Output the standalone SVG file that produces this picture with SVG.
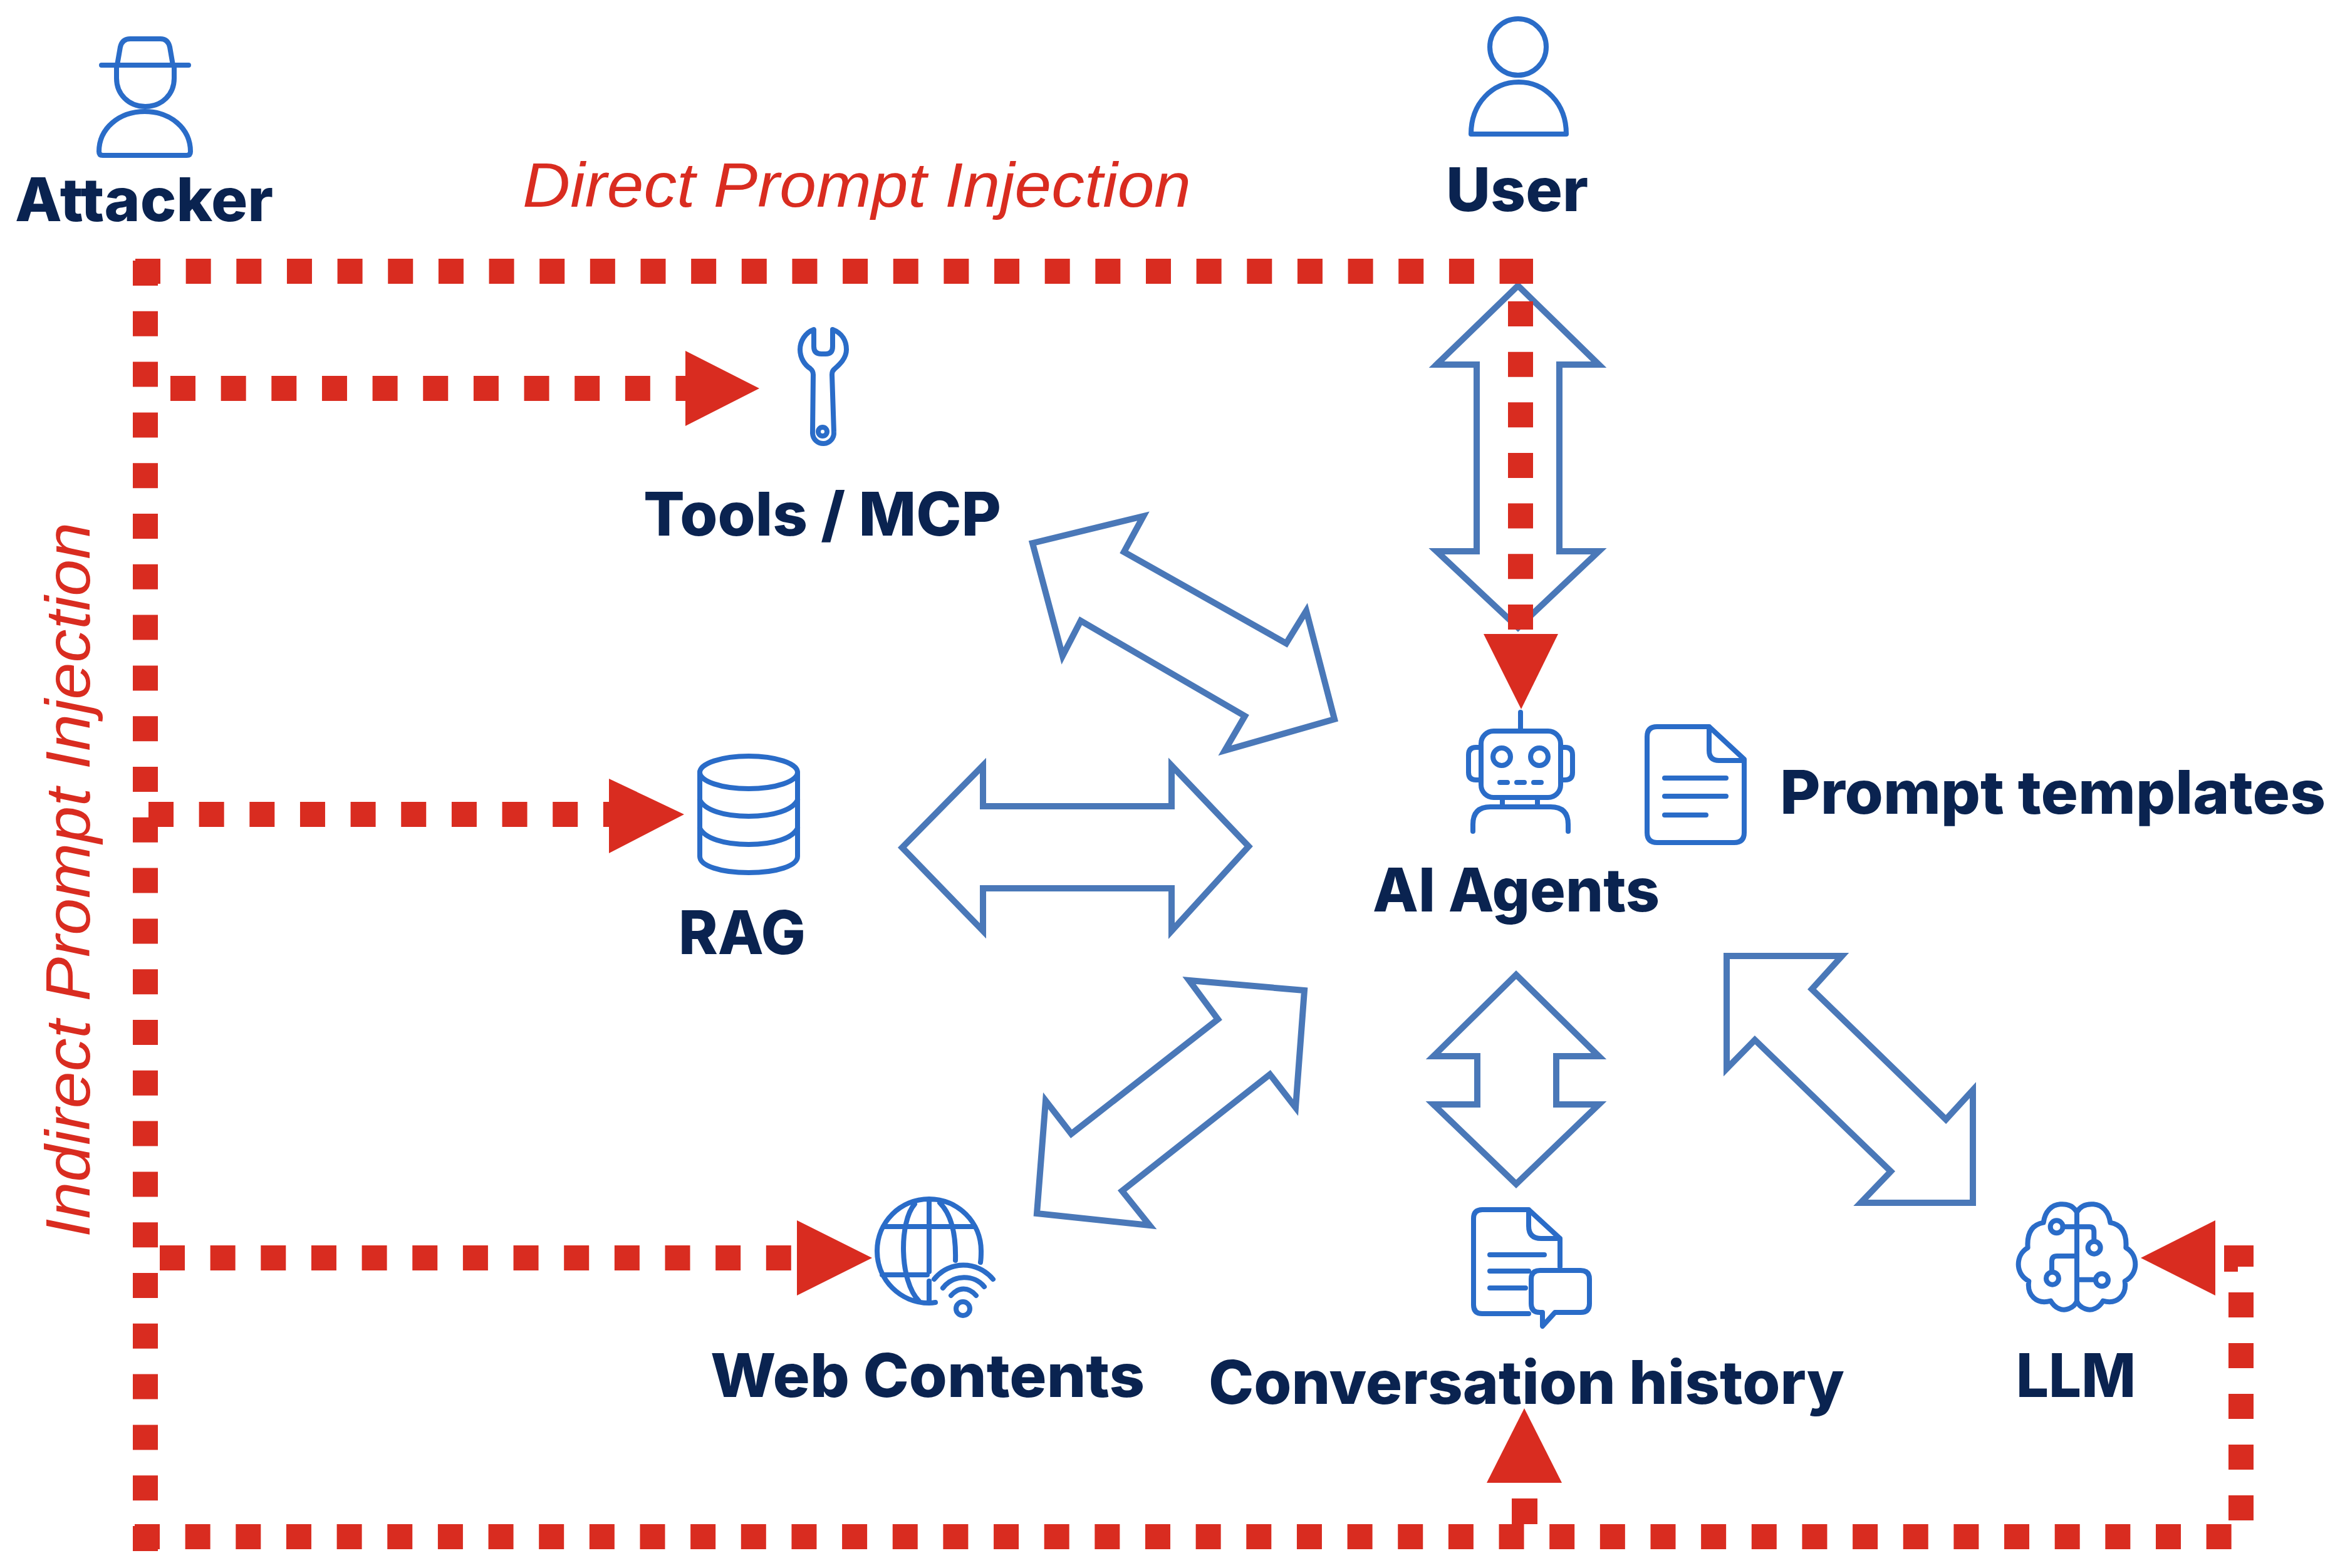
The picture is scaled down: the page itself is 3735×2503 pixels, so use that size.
<svg xmlns="http://www.w3.org/2000/svg" width="3735" height="2503" viewBox="0 0 3735 2503">
<style>
.d{fill:none;stroke:#d92c20;stroke-width:40;stroke-dasharray:40 40.65}
.v{stroke-dasharray:40 40.8}
.h{fill:#d92c20;stroke:none}
.b{fill:none;stroke:#4a78b8;stroke-width:10}
.i{fill:none;stroke:#2a6cc8;stroke-width:8;stroke-linecap:round;stroke-linejoin:round}
.l{font-family:"Inter","Liberation Sans",sans-serif;font-weight:800;font-size:96px;fill:#0a2350}
.r{font-family:"Liberation Sans",Arial,sans-serif;font-style:italic;font-size:100px;fill:#d92c20}
</style>
<rect width="3735" height="2503" fill="#fff"/>
<g id="connectors">
<polygon class="b" points="2423,456 2552,582 2489,582 2489,880 2552,880 2423,1002 2293,880 2357,880 2357,582 2293,582"/>
<polygon class="b" points="1440,1353 1569,1222 1569,1287 1870,1287 1870,1222 1993,1351 1870,1486 1870,1418 1569,1418 1569,1486"/>
<polygon class="b" points="1648,867 1825,824 1794,881 2053,1027 2085,975 2130,1148 1955,1198 1987,1143 1725,991 1696,1047"/>
<polygon class="b" points="2082,1581 1898,1565 1944,1627 1710,1810 1669,1757 1655,1937 1835,1956 1791,1901 2027,1715 2068,1768"/>
<polygon class="b" points="2420,1556 2552,1686 2484,1686 2484,1763 2552,1763 2420,1890 2288,1763 2358,1763 2358,1686 2288,1686"/>
<polygon class="b" points="2756,1526 2940,1526 2892,1579 3106,1787 3149,1740 3149,1920 2970,1920 3018,1870 2801,1660 2756,1706"/>
<path class="d v" d="M232 416V2476"/>
<path class="d" d="M216 433H2432"/>
<path class="h" d="M2394 413H2447V453H2394Z"/>
<path class="d" d="M2427 481V1007"/>
<path class="h" d="M2368 1012H2487L2428 1132Z"/>
<path class="d" d="M272 620H1118"/>
<path class="h" d="M1094 560V680L1212 620Z"/>
<path class="d" d="M237 1300H1003"/>
<path class="h" d="M972 1243V1362L1092 1300Z"/>
<path class="d" d="M255 2008H1290"/>
<path class="h" d="M1272 1948V2068L1392 2008Z"/>
<path class="d" d="M215 2453H3563"/>
<path class="d" d="M3577 2063V2427" style="stroke-dasharray:40 41"/>
<path class="h" d="M3550 1988H3597V2022H3572V2030H3550Z"/>
<path class="h" d="M3536 1948V2068L3417 2008Z"/>
<path class="h" d="M2373 2367H2493L2433 2248Z"/>
<path class="h" d="M2413 2392H2454V2433H2413Z"/>
</g>
<g id="attacker">
<path class="i" d="M162 104H301M187 104 192 75Q195 62 208 62H256Q268 62 271 75L276 104M186 104V125C186 150 205 170 232 170C259 170 278 150 278 125V104M158 242C158 205 190 178 231 178C272 178 304 205 304 242Q304 248 298 248H164Q158 248 158 242Z"/>
<text class="l" x="24" y="353" textLength="412" lengthAdjust="spacingAndGlyphs">Attacker</text>
</g>
<g id="user">
<circle class="i" cx="2423" cy="75" r="45"/>
<path class="i" d="M2348 214C2348 165 2382 131 2424 131C2466 131 2500 165 2500 214Z"/>
<text class="l" x="2308" y="337" textLength="227" lengthAdjust="spacingAndGlyphs">User</text>
</g>
<text class="r" x="834" y="330" textLength="1067" lengthAdjust="spacingAndGlyphs">Direct Prompt Injection</text>
<text class="r" transform="translate(143 1975) rotate(-90)" textLength="1141" lengthAdjust="spacingAndGlyphs">Indirect Prompt Injection</text>
<g id="tools">
<path class="i" d="M1299 526V553Q1299 565 1311 565H1318Q1329 565 1329 553V526C1345 532 1351 545 1351 558C1351 572 1340 582 1332 589Q1328 592 1328 598L1331 690A17 17 0 0 1 1297 692L1298 598Q1298 592 1293 588C1285 583 1277 572 1277 558C1277 545 1285 531 1299 526Z"/>
<circle class="i" cx="1313" cy="689" r="7"/>
<text class="l" x="1027" y="855" textLength="571" lengthAdjust="spacingAndGlyphs">Tools / MCP</text>
</g>
<g id="rag">
<ellipse class="i" cx="1195" cy="1233" rx="78" ry="26"/>
<path class="i" d="M1117 1233V1367C1117 1382 1150 1393 1195 1393C1240 1393 1273 1382 1273 1367V1233M1117 1277C1125 1293 1155 1303 1195 1303C1235 1303 1265 1293 1273 1277M1117 1322C1125 1338 1155 1348 1195 1348C1235 1348 1265 1338 1273 1322"/>
<text class="l" x="1083" y="1523" textLength="203" lengthAdjust="spacingAndGlyphs">RAG</text>
</g>
<g id="web-contents">
<path class="i" d="M1565 2015C1566 2009 1566 2003 1566 1997C1566 1951 1529 1914 1483 1914C1437 1914 1400 1951 1400 1997C1400 2043 1437 2080 1483 2080Q1488 2080 1493 2079M1483 1917V2030M1483 2045V2077M1412 1958H1555M1408 2035H1480M1460 1922C1435 1950 1435 2045 1467 2077M1500 1920C1520 1940 1526 1975 1525 2012"/>
<path class="i" d="M1491 2042C1515 2012 1560 2012 1585 2042M1505 2056C1522 2034 1555 2034 1571 2054M1518 2068C1530 2054 1546 2054 1558 2068"/>
<circle class="i" cx="1537" cy="2089" r="11"/>
<text class="l" x="1134" y="2230" textLength="693" lengthAdjust="spacingAndGlyphs">Web Contents</text>
</g>
<g id="ai-agents">
<path class="i" d="M2427 1137V1165"/>
<rect class="i" x="2364" y="1167" width="127" height="106" rx="20"/>
<circle class="i" cx="2397" cy="1208" r="14"/>
<circle class="i" cx="2457" cy="1208" r="14"/>
<path class="i" d="M2364 1193H2356Q2344 1193 2344 1205V1233Q2344 1245 2356 1245H2364M2491 1193H2498Q2510 1193 2510 1205V1233Q2510 1245 2498 1245H2491M2394 1249H2406M2421 1249H2433M2448 1249H2460M2398 1273V1288M2454 1273V1288M2351 1327V1316Q2351 1288 2379 1288H2475Q2503 1288 2503 1316V1327"/>
<text class="l" x="2191" y="1455" textLength="458" lengthAdjust="spacingAndGlyphs">AI Agents</text>
</g>
<g id="prompt-templates">
<path class="i" d="M2645 1160H2728L2784 1212V1329Q2784 1345 2768 1345H2645Q2629 1345 2629 1329V1176Q2629 1160 2645 1160ZM2728 1160V1198Q2728 1214 2744 1214H2784M2657 1242H2755M2657 1271H2755M2657 1301H2723"/>
<text class="l" x="2841" y="1299" textLength="871" lengthAdjust="spacingAndGlyphs">Prompt templates</text>
</g>
<g id="conversation-history">
<path class="i" d="M2490 2022V1977L2440 1931H2366Q2352 1931 2352 1945V2083Q2352 2097 2366 2097H2440M2440 1931V1957Q2440 1977 2460 1977H2490M2378 2003H2465M2378 2029H2440M2378 2056H2435"/>
<path class="i" d="M2458 2028H2523Q2537 2028 2537 2042V2081Q2537 2095 2523 2095H2482L2462 2117V2095H2458Q2444 2095 2444 2081V2042Q2444 2028 2458 2028Z"/>
<text class="l" x="1929" y="2241" textLength="1015" lengthAdjust="spacingAndGlyphs">Conversation history</text>
</g>
<g id="llm">
<g transform="translate(3180 1880) scale(.3333)" class="i" style="stroke-width:24">
<path d="M405 165C385 130 350 125 325 127C285 130 252 160 245 215C190 225 165 265 170 335C135 355 125 390 125 415C125 450 145 480 175 495C165 560 210 610 280 590C300 625 335 640 365 628C385 620 400 605 405 590M405 165C425 130 460 125 485 127C525 130 558 160 565 215C620 225 645 265 640 335C675 355 685 390 685 415C685 450 665 480 635 495C645 560 600 610 530 590C510 625 475 640 445 628C425 620 410 605 405 590M405 165V590M338 235H465Q487 235 487 260V300M405 375H310Q285 375 285 400V450M405 488H495"/>
<circle cx="308" cy="235" r="30"/><circle cx="488" cy="335" r="30"/><circle cx="288" cy="482" r="30"/><circle cx="525" cy="490" r="30"/>
</g>
<text class="l" x="3218" y="2230" textLength="191" lengthAdjust="spacingAndGlyphs">LLM</text>
</g>
</svg>
